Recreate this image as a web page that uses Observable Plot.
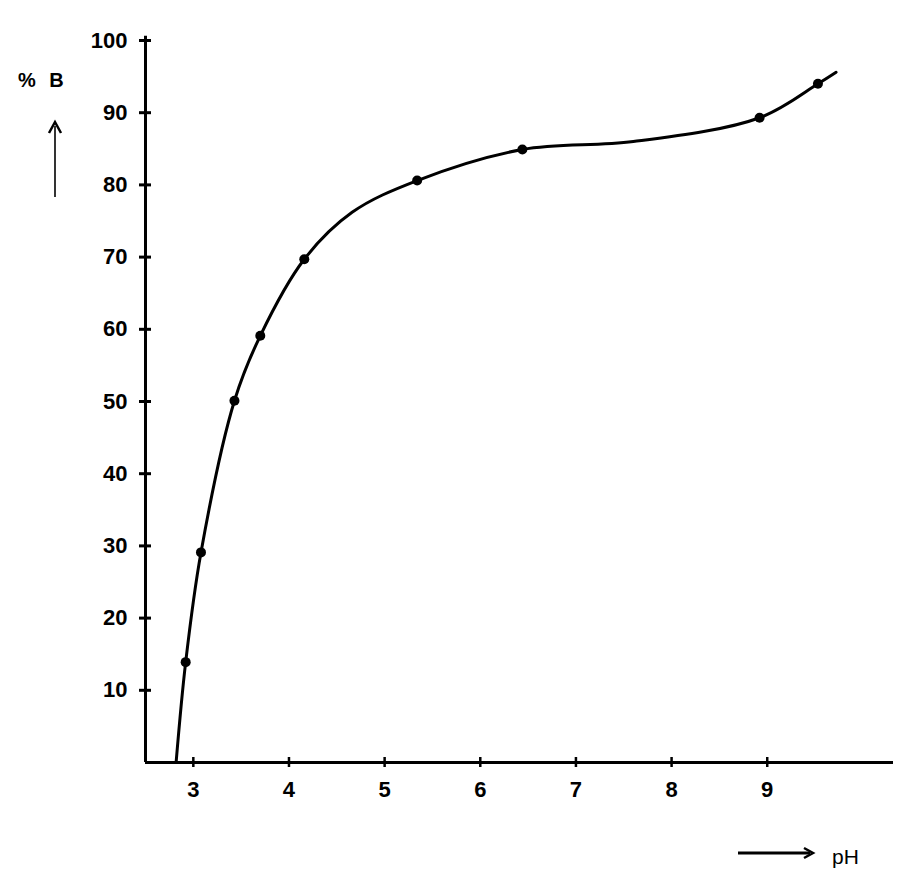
<!DOCTYPE html>
<html>
<head>
<meta charset="utf-8">
<script src="https://cdn.jsdelivr.net/npm/d3@7"></script>
<script src="https://cdn.jsdelivr.net/npm/@observablehq/plot@0.6"></script>
<style>
  html, body { margin: 0; padding: 0; background: #fff; }
  #chart { width: 915px; height: 895px; }
</style>
</head>
<body>
<div id="chart"></div>
<script>
// Measured points (dots) on the curve
const dotPH = [2.92, 3.08, 3.43, 3.70, 4.16, 5.34, 6.44, 8.92, 9.53];
const dotB  = [13.9, 29.1, 50.1, 59.1, 69.7, 80.6, 84.9, 89.3, 94.0];

// Hand-drawn curve
const curvePH = [2.82, 2.92, 3.08, 3.43, 3.70, 4.16, 4.66, 5.34, 6.44, 7.60, 8.92, 9.53, 9.72];
const curveB  = [0.0, 13.9, 29.1, 50.1, 59.1, 69.7, 76.2, 80.6, 84.9, 86.0, 89.3, 94.0, 95.6];

// Axis ticks
const xTicks = [3, 4, 5, 6, 7, 8, 9];
const yTicks = [10, 20, 30, 40, 50, 60, 70, 80, 90, 100];
const xDomain = [2.5, 10.32];
const yDomain = [0, 100];

const yLabel = "% B";
const xLabel = "pH";

const dots = dotPH.map((x, i) => ({x, y: dotB[i]}));
const curve = curvePH.map((x, i) => ({x, y: curveB[i]}));

const FONT = "'Liberation Sans', Arial, sans-serif";

const plot = Plot.plot({
  width: 915,
  height: 895,
  marginLeft: 145,
  marginRight: 22,
  marginTop: 40,
  marginBottom: 133,
  style: {
    fontFamily: FONT,
    fontSize: "22px",
    fontWeight: "bold",
    color: "#000",
    background: "#fff"
  },
  x: { domain: xDomain, ticks: xTicks, label: null },
  y: { domain: yDomain, ticks: yTicks, label: null },
  marks: [
    Plot.ruleY([yDomain[0]], {stroke: "#000", strokeWidth: 3}),
    Plot.ruleX([xDomain[0]], {stroke: "#000", strokeWidth: 3, y1: yDomain[0], y2: 100.6}),
    Plot.axisX({ticks: xTicks, tickSize: 10, dy: -5, tickPadding: 14, strokeWidth: 2.5, fontSize: 22, fontWeight: "bold"}),
    Plot.axisY({ticks: yTicks, tickSize: 12, dx: 6, tickPadding: 12, strokeWidth: 3, fontSize: 22, fontWeight: "bold"}),
    Plot.line(curve, {x: "x", y: "y", curve: "catmull-rom", stroke: "#000", strokeWidth: 3}),
    Plot.dot(dots, {x: "x", y: "y", r: 5, fill: "#000", stroke: "none"})
  ]
});

const svg = d3.select(plot);
// y-axis label with upward arrow
svg.append("text")
  .attr("x", 18).attr("y", 87)
  .attr("text-anchor", "start")
  .attr("font-family", FONT)
  .attr("font-size", 20).attr("font-weight", "bold")
  .attr("word-spacing", "8px")
  .attr("fill", "#000")
  .text(yLabel);
svg.append("line")
  .attr("x1", 55).attr("y1", 197).attr("x2", 55).attr("y2", 126)
  .attr("stroke", "#000").attr("stroke-width", 1.6);
svg.append("path")
  .attr("d", "M49,133 L55,122 L61,133")
  .attr("fill", "none").attr("stroke", "#000").attr("stroke-width", 2.5);

// x-axis label with rightward arrow
svg.append("line")
  .attr("x1", 738).attr("y1", 853).attr("x2", 810).attr("y2", 853)
  .attr("stroke", "#000").attr("stroke-width", 3);
svg.append("path")
  .attr("d", "M804,848 L813,853 L804,858")
  .attr("fill", "none").attr("stroke", "#000").attr("stroke-width", 2.5);
svg.append("text")
  .attr("x", 832).attr("y", 864)
  .attr("text-anchor", "start")
  .attr("font-family", FONT)
  .attr("font-size", 21).attr("font-weight", "normal")
  .attr("fill", "#000")
  .text(xLabel);

document.getElementById("chart").appendChild(plot);
</script>
</body>
</html>
